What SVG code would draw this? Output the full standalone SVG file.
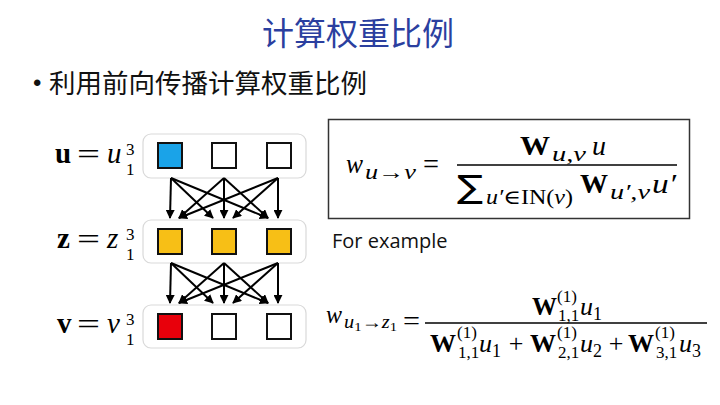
<svg xmlns="http://www.w3.org/2000/svg" width="720" height="405" viewBox="0 0 720 405">
<defs>
<marker id="ah" viewBox="0 0 10 10" refX="9" refY="5" markerWidth="4.5" markerHeight="4.5" orient="auto" markerUnits="strokeWidth">
<path d="M0,0 L10,5 L0,10 z" fill="#000"/>
</marker>
<style>
.cjk{font-family:"Noto Sans CJK SC","Noto Sans",sans-serif}
.m{font-family:"Liberation Serif","DejaVu Serif",serif;fill:#000}
.i{font-style:italic}
.b{font-weight:bold}
.row{fill:#fff;stroke:#d9d9d9;stroke-width:1.2}
.sq{stroke:#111;stroke-width:2}
.ar{stroke:#000;stroke-width:2;fill:none;marker-end:url(#ah)}
</style>
</defs>
<rect width="720" height="405" fill="#fff"/>
<text class="cjk" x="358" y="45" font-size="32" fill="#2b3f9f" text-anchor="middle">计算权重比例</text>
<text x="33" y="91" font-size="24" font-family="Liberation Sans, sans-serif" fill="#111">•</text>
<text class="cjk" x="49" y="93" font-size="26.5" fill="#111">利用前向传播计算权重比例</text>

<g id="row-u">
<rect class="row" x="143" y="134" width="163" height="44" rx="8"/>
<rect class="sq" x="158" y="143" width="24" height="25" fill="#1aa3e8"/>
<rect class="sq" x="212" y="143" width="24" height="25" fill="#fff"/>
<rect class="sq" x="267" y="143" width="24" height="25" fill="#fff"/>
<text class="m b" x="55" y="163" font-size="29">u</text>
<text class="m" x="77" y="164" font-size="30" textLength="23" lengthAdjust="spacingAndGlyphs">=</text>
<text class="m i" x="107" y="163" font-size="29">u</text>
<text class="m" font-size="17"><tspan x="126" y="155">3</tspan><tspan x="126" y="175">1</tspan></text>
</g>
<g id="row-z">
<rect class="row" x="143" y="220" width="163" height="43" rx="8"/>
<rect class="sq" x="158" y="229" width="24" height="25" fill="#f7bf16"/>
<rect class="sq" x="212" y="229" width="24" height="25" fill="#f7bf16"/>
<rect class="sq" x="267" y="229" width="24" height="25" fill="#f7bf16"/>
<text class="m b" x="57" y="248" font-size="29">z</text>
<text class="m" x="77" y="249" font-size="30" textLength="23" lengthAdjust="spacingAndGlyphs">=</text>
<text class="m i" x="107" y="248" font-size="29">z</text>
<text class="m" font-size="17"><tspan x="126" y="240">3</tspan><tspan x="126" y="260">1</tspan></text>
</g>
<g id="row-v">
<rect class="row" x="143" y="305" width="163" height="43" rx="8"/>
<rect class="sq" x="158" y="314" width="24" height="25" fill="#e8000b"/>
<rect class="sq" x="212" y="314" width="24" height="25" fill="#fff"/>
<rect class="sq" x="267" y="314" width="24" height="25" fill="#fff"/>
<text class="m b" x="57" y="333" font-size="29">v</text>
<text class="m" x="77" y="334" font-size="30" textLength="23" lengthAdjust="spacingAndGlyphs">=</text>
<text class="m i" x="107" y="333" font-size="29">v</text>
<text class="m" font-size="17"><tspan x="126" y="325">3</tspan><tspan x="126" y="345">1</tspan></text>
</g>

<g id="connectors">
<line class="ar" x1="171" y1="178" x2="170" y2="218"/>
<line class="ar" x1="171" y1="178" x2="213" y2="218"/>
<line class="ar" x1="171" y1="178" x2="268" y2="218"/>
<line class="ar" x1="224" y1="178" x2="179" y2="218"/>
<line class="ar" x1="224" y1="178" x2="224" y2="218"/>
<line class="ar" x1="224" y1="178" x2="268" y2="218"/>
<line class="ar" x1="278" y1="178" x2="179" y2="218"/>
<line class="ar" x1="278" y1="178" x2="233" y2="218"/>
<line class="ar" x1="278" y1="178" x2="278" y2="218"/>
<line class="ar" x1="171" y1="263" x2="170" y2="303"/>
<line class="ar" x1="171" y1="263" x2="213" y2="303"/>
<line class="ar" x1="171" y1="263" x2="268" y2="303"/>
<line class="ar" x1="224" y1="263" x2="179" y2="303"/>
<line class="ar" x1="224" y1="263" x2="224" y2="303"/>
<line class="ar" x1="224" y1="263" x2="268" y2="303"/>
<line class="ar" x1="278" y1="263" x2="179" y2="303"/>
<line class="ar" x1="278" y1="263" x2="233" y2="303"/>
<line class="ar" x1="278" y1="263" x2="278" y2="303"/>
</g>

<g id="formula-box">
<rect x="328.5" y="119.5" width="361" height="99" fill="none" stroke="#333" stroke-width="1.5"/>
<text class="m i" x="346" y="173" font-size="28" textLength="17" lengthAdjust="spacingAndGlyphs">w</text>
<text class="m i" x="365" y="179" font-size="20" textLength="51" lengthAdjust="spacingAndGlyphs">u<tspan font-style="normal">→</tspan>v</text>
<text class="m" x="423" y="174" font-size="30" textLength="16" lengthAdjust="spacingAndGlyphs">=</text>
<line x1="457" y1="165" x2="677" y2="165" stroke="#000" stroke-width="1.3"/>
<text class="m b" x="520" y="155" font-size="27" textLength="30" lengthAdjust="spacingAndGlyphs">W</text>
<text class="m i" x="552" y="161" font-size="20" textLength="34" lengthAdjust="spacingAndGlyphs">u,v</text>
<text class="m i" x="592" y="155" font-size="28">u</text>
<text x="457" y="198" font-size="32" font-family="DejaVu Sans, sans-serif" textLength="26" lengthAdjust="spacingAndGlyphs">∑</text>
<text class="m i" x="486" y="204" font-size="20" textLength="87" lengthAdjust="spacingAndGlyphs">u′<tspan font-style="normal">∈IN(</tspan>v<tspan font-style="normal">)</tspan></text>
<text class="m b" x="580" y="193" font-size="27" textLength="28" lengthAdjust="spacingAndGlyphs">W</text>
<text class="m i" x="610" y="199" font-size="20" textLength="40" lengthAdjust="spacingAndGlyphs">u′,v</text>
<text class="m i" x="652" y="193" font-size="28" textLength="24" lengthAdjust="spacingAndGlyphs">u′</text>
</g>

<text x="332" y="248" font-size="20" font-family="Open Sans, sans-serif" fill="#111">For example</text>

<g id="formula-example">
<text class="m i" x="326" y="323" font-size="26" textLength="16" lengthAdjust="spacingAndGlyphs">w</text>
<text class="m i" x="344" y="328" font-size="18" textLength="53" lengthAdjust="spacingAndGlyphs">u<tspan font-style="normal" font-size="13" dy="3">1</tspan><tspan font-style="normal" dy="-3">→</tspan>z<tspan font-style="normal" font-size="13" dy="3">1</tspan></text>
<text class="m" x="403" y="330" font-size="28" textLength="17" lengthAdjust="spacingAndGlyphs">=</text>
<line x1="425" y1="323" x2="707" y2="323" stroke="#000" stroke-width="1.3"/>
<text class="m b" x="532" y="315" font-size="25" textLength="25" lengthAdjust="spacingAndGlyphs">W</text>
<text class="m" font-size="17"><tspan x="557" y="302">(1)</tspan><tspan x="558" y="321">1,1</tspan></text>
<text class="m i" x="580" y="315" font-size="26">u<tspan font-style="normal" font-size="18" dy="5">1</tspan></text>

<text class="m b" x="430" y="352" font-size="25" textLength="26" lengthAdjust="spacingAndGlyphs">W</text>
<text class="m" font-size="17"><tspan x="457" y="338">(1)</tspan><tspan x="458" y="358">1,1</tspan></text>
<text class="m i" x="479" y="352" font-size="26">u<tspan font-style="normal" font-size="18" dy="5">1</tspan></text>
<text class="m" x="516" y="352" font-size="26" text-anchor="middle">+</text>
<text class="m b" x="530" y="352" font-size="25" textLength="26" lengthAdjust="spacingAndGlyphs">W</text>
<text class="m" font-size="17"><tspan x="557" y="338">(1)</tspan><tspan x="558" y="358">2,1</tspan></text>
<text class="m i" x="580" y="352" font-size="26">u<tspan font-style="normal" font-size="18" dy="5">2</tspan></text>
<text class="m" x="616" y="352" font-size="26" text-anchor="middle">+</text>
<text class="m b" x="628" y="352" font-size="25" textLength="26" lengthAdjust="spacingAndGlyphs">W</text>
<text class="m" font-size="17"><tspan x="655" y="338">(1)</tspan><tspan x="656" y="358">3,1</tspan></text>
<text class="m i" x="679" y="352" font-size="26">u<tspan font-style="normal" font-size="18" dy="5">3</tspan></text>
</g>
</svg>
